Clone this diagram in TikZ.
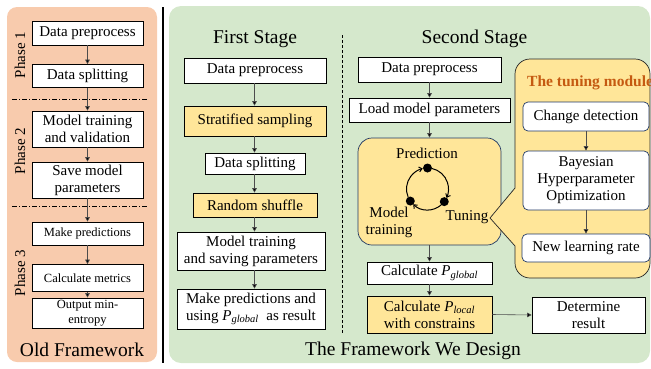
\documentclass[tikz,border=0pt]{standalone}
\usepackage{fontspec}
\setmainfont{Liberation Serif}
\usetikzlibrary{arrows.meta,calc}
\definecolor{salmon}{HTML}{F8CBAD}
\definecolor{greenbg}{HTML}{D5E8CC}
\definecolor{gold}{HTML}{FFE699}
\definecolor{navy}{HTML}{203864}
\definecolor{orangetxt}{HTML}{C55A11}
\newcommand{\Psub}[1]{\textit{P}\textsubscript{\textit{#1}}}
\begin{document}
\begin{tikzpicture}[x=1pt,y=-1pt,
  box/.style={draw=black, line width=0.7pt, fill=white, inner sep=0pt, align=center, font=\fontsize{15}{17}\selectfont},
  ybox/.style={box, fill=gold},
  sbox/.style={box, font=\fontsize{12.5}{14.5}\selectfont},
  rbox/.style={box, draw=navy, rounded corners=5pt},
  arr/.style={line width=0.6pt, draw=black!70, -{Triangle[length=4.5pt,width=4.5pt,fill=black]}},
  ttl/.style={font=\fontsize{19.5}{22}\selectfont, anchor=base},
  lbl/.style={font=\fontsize{15}{17}\selectfont, align=center, inner sep=0pt},
  cyca/.style={line width=1pt, -{Straight Barb[length=3pt,width=5pt]}},
]
\useasboundingbox (0,0) rectangle (651,368);
% panels
\fill[salmon, rounded corners=10pt] (7,7) rectangle (157,362);
\fill[greenbg, rounded corners=12pt] (169,6) rectangle (650,363);
\coordinate (sepT) at (163,7);
\coordinate (sepB) at (163,363);
\draw[line width=2.5pt] (sepT) -- (sepB);

% ---------- old framework ----------
\coordinate (dd1a) at (12,99); \coordinate (dd1b) at (148,99);
\coordinate (dd2a) at (12,206); \coordinate (dd2b) at (148,206);
\draw[line width=0.7pt, dash pattern=on 5pt off 2pt on 1pt off 2pt] (dd1a) -- (dd1b);
\draw[line width=0.7pt, dash pattern=on 5pt off 2pt on 1pt off 2pt] (dd2a) -- (dd2b);
\node[box, minimum width=111pt, minimum height=24pt] (o1) at (87.5,33) {Data preprocess};
\node[box, minimum width=111pt, minimum height=23pt] (o2) at (87.5,76) {Data splitting};
\node[box, minimum width=111pt, minimum height=36pt] (o3) at (87.5,129) {Model training\\and validation};
\node[box, minimum width=111pt, minimum height=36pt] (o4) at (87.5,180) {Save model\\parameters};
\node[sbox, minimum width=111pt, minimum height=23pt] (o5) at (87.5,233.5) {Make predictions};
\node[sbox, minimum width=111pt, minimum height=27pt] (o6) at (87.5,278) {Calculate metrics};
\node[sbox, minimum width=111pt, minimum height=30pt] (o7) at (87.5,313) {Output min-\\entropy};
\node[lbl, rotate=90] (ph1) at (20,55) {Phase 1};
\node[lbl, rotate=90] (ph2) at (20,151) {Phase 2};
\node[lbl, rotate=90] (ph3) at (20,273) {Phase 3};
\node[ttl] (oldt) at (82,356) {Old Framework};
\foreach \a/\b in {o1/o2,o2/o3,o3/o4,o4/o5,o5/o6,o6/o7}
  \draw[arr] (\a.south) -- (\b.north);

% ---------- first stage ----------
\node[ttl] (fst) at (255,43) {First Stage};
\node[box, minimum width=142pt, minimum height=25pt] (f1) at (255,70.5) {Data preprocess};
\node[ybox, minimum width=142pt, minimum height=30pt] (f2) at (255,121) {Stratified sampling};
\node[box, minimum width=100pt, minimum height=21pt] (f3) at (255,163.5) {Data splitting};
\node[ybox, minimum width=124pt, minimum height=24pt] (f4) at (255,205) {Random shuffle};
\node[box, minimum width=148pt, minimum height=38pt] (f5) at (251,251) {Model training\\and saving parameters};
\node[box, minimum width=148pt, minimum height=40pt] (f6) at (251,309) {Make predictions and\\using \Psub{global}\ \ as result};
\foreach \a/\b in {f1/f2,f2/f3,f3/f4,f4/f5,f5/f6}
  \draw[arr] (\a.south -| 254.5,0) -- (\b.north -| 254.5,0);

\coordinate (dashT) at (342,35);
\coordinate (dashB) at (342,333);
\draw[line width=0.6pt, dash pattern=on 3pt off 2pt] (dashT) -- (dashB);

% ---------- second stage ----------
\node[ttl] (sst) at (474.5,43) {Second Stage};
\node[box, minimum width=143pt, minimum height=25pt] (s1) at (429.5,69.5) {Data preprocess};
\node[box, minimum width=161pt, minimum height=24pt] (s2) at (429.5,110) {Load model parameters};
\node[draw=navy, fill=gold, line width=0.7pt, rounded corners=14pt, minimum width=143pt, minimum height=107pt, inner sep=0pt] (s3) at (429.5,191.5) {};
\node[box, minimum width=125pt, minimum height=22pt] (s4) at (429.5,273) {Calculate \Psub{global}};
\node[ybox, minimum width=125pt, minimum height=37pt] (s5) at (429.5,314.5) {Calculate \Psub{local}\\with constrains};
\node[box, minimum width=113pt, minimum height=36pt] (s6) at (588.5,315) {Determine\\result};
\foreach \a/\b in {s1/s2,s2/s3,s3/s4,s4/s5}
  \draw[arr] (\a.south) -- (\b.north);
\draw[arr] (s5.east) -- (s6.west);

% cycle
\coordinate (cyc) at (427.5,189);
\node[circle, fill=black, inner sep=0pt, minimum size=9pt] (dtop) at ($(cyc)+(90:21pt)$) {};
\node[circle, fill=black, inner sep=0pt, minimum size=9pt] (dright) at ($(cyc)+(-37:21pt)$) {};
\node[circle, fill=black, inner sep=0pt, minimum size=9pt] (dleft) at ($(cyc)+(215:21pt)$) {};
\draw[cyca] ($(cyc)+(203:21pt)$) arc[start angle=203, end angle=103, radius=21pt];
\draw[cyca] ($(cyc)+(78:21pt)$) arc[start angle=78, end angle=-25, radius=21pt];
\draw[cyca] ($(cyc)+(-49:21pt)$) arc[start angle=-49, end angle=-133, radius=21pt];
\node[lbl] (lpred) at (427,153) {Prediction};
\node[lbl] (ltrain) at (389,222) {Model\\training};
\node[lbl] (ltun) at (467,217) {Tuning};

% ---------- tuning module ----------
\draw[fill=gold, draw=black!85, line width=0.7pt] (490,218) -- (515,188) [rounded corners=15pt] -- (515,59) -- (650,59) -- (650,278) -- (515,278) [sharp corners] -- (515,246) -- cycle;
\node[font=\bfseries\fontsize{15.5}{18}\selectfont, text=orangetxt, anchor=base west, inner sep=0pt] (tmt) at (527,86) {The tuning module};
\node[rbox, minimum width=126pt, minimum height=29pt] (t1) at (586,116.5) {Change detection};
\node[rbox, minimum width=126pt, minimum height=59pt] (t2) at (586,180.5) {Bayesian\\Hyperparameter\\Optimization};
\node[rbox, minimum width=128pt, minimum height=28pt] (t3) at (586,248) {New learning rate};
\draw[arr] (t1.south) -- (t2.north);
\draw[arr] (t2.south) -- (t3.north);

\node[ttl] (newt) at (413,355) {The Framework We Design};
\end{tikzpicture}
\end{document}
